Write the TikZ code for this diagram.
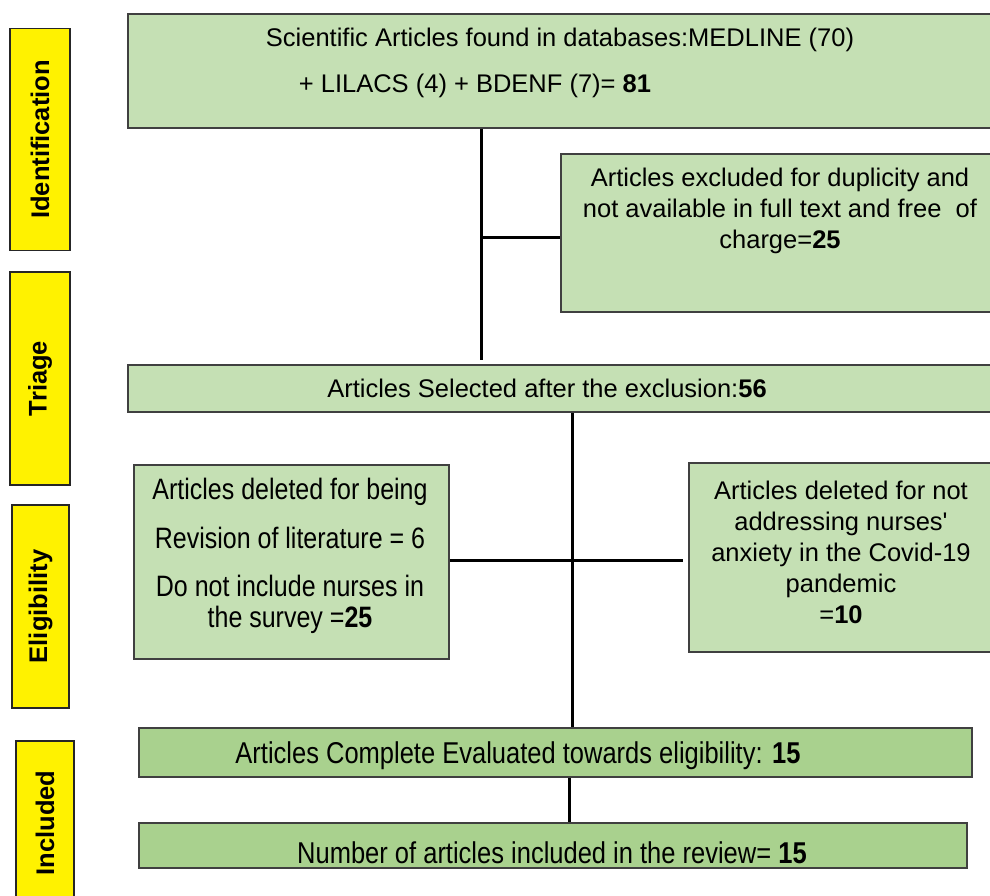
\documentclass[tikz,border=0pt]{standalone}
\usepackage{fontspec}
\setmainfont{Liberation Sans}
\definecolor{paleg}{HTML}{C5E0B4}
\definecolor{midg}{HTML}{A9D18E}
\begin{document}
\begin{tikzpicture}[x=1pt,y=-1pt,line width=3pt]
  \tikzstyle{stage}=[draw=black!85,fill=yellow,line width=1.3pt,rotate=90,inner sep=0pt,font=\bfseries\fontsize{25.5}{30}\selectfont]
  \tikzstyle{box}=[draw=black!75,fill=paleg,line width=1.5pt,inner sep=0pt]
  \tikzstyle{darkbox}=[box,fill=midg]
  \tikzstyle{txt}=[align=center,inner sep=0pt,font=\fontsize{25.5}{31}\selectfont]
  \tikzstyle{tall}=[txt,yscale=1.18,transform shape]
  \useasboundingbox (0,0) rectangle (990,896);

  % stages
  \node[stage,minimum width=222pt,minimum height=60pt] (S_1) at (40,139.5) {Identification};
  \node[stage,minimum width=213pt,minimum height=60pt] (S_2) at (40,378.5) {Triage};
  \node[stage,minimum width=203pt,minimum height=57pt] (S_3) at (40.5,606.5) {Eligibility};
  \node[stage,minimum width=164pt,minimum height=58pt] (S_4) at (45,823) {Included};

  % boxes
  \node[box,minimum width=867pt,minimum height=114pt] (B_1) at (561.5,71) {};
  \node[txt] (T_1a) at (560,40) {Scientific Articles found in databases:MEDLINE (70)};
  \node[txt] (T_1b) at (475,86) {+ LILACS (4) + BDENF (7)= \textbf{81}};

  \node[box,minimum width=434pt,minimum height=158pt] (B_2) at (778,233) {};
  \node[txt] (T_2) at (780,211) {Articles excluded for duplicity and\\not available in full text and free\ \ of\\charge=\textbf{25}};

  \node[box,minimum width=867pt,minimum height=47pt] (B_3) at (561.5,388.5) {};
  \node[txt] (T_3) at (547,388) {Articles Selected after the exclusion:\textbf{56}};

  \node[box,minimum width=315pt,minimum height=194pt] (B_4) at (291.5,562) {};
  \node[tall,font=\fontsize{25}{26}\selectfont] (T_4) at (290,556) {Articles deleted for being\\[15pt]Revision of literature = 6\\[15pt]Do not include nurses in\\the survey =\textbf{25}};

  \node[box,minimum width=306pt,minimum height=189pt] (B_5) at (842,557.5) {};
  \node[txt] (T_5) at (841,552) {Articles deleted for not\\addressing nurses\textquotesingle\\anxiety in the Covid-19\\pandemic\\=\textbf{10}};

  \node[darkbox,minimum width=833pt,minimum height=49pt] (B_6) at (555.5,752.5) {};
  \node[tall] (T_6) at (518,756) {Articles Complete Evaluated towards eligibility: \textbf{15}};

  \node[darkbox,minimum width=828pt,minimum height=45pt] (B_7) at (553,845.5) {};
  \node[tall] (T_7) at (552,853) {Number of articles included in the review= \textbf{15}};

  % connectors
  \coordinate (C_1) at (481,360);
  \coordinate (C_2) at (481,237);
  \coordinate (C_3) at (683,560);
  \draw (B_1.south -| C_1) -- (C_1);
  \draw (C_2) -- (C_2 -| B_2.west);
  \draw (B_3.south -| 572,0) -- (B_6.north -| 572,0);
  \draw (B_4.east |- C_3) -- (C_3);
  \draw (B_6.south -| 569,0) -- (B_7.north -| 569,0);
\end{tikzpicture}
\end{document}
